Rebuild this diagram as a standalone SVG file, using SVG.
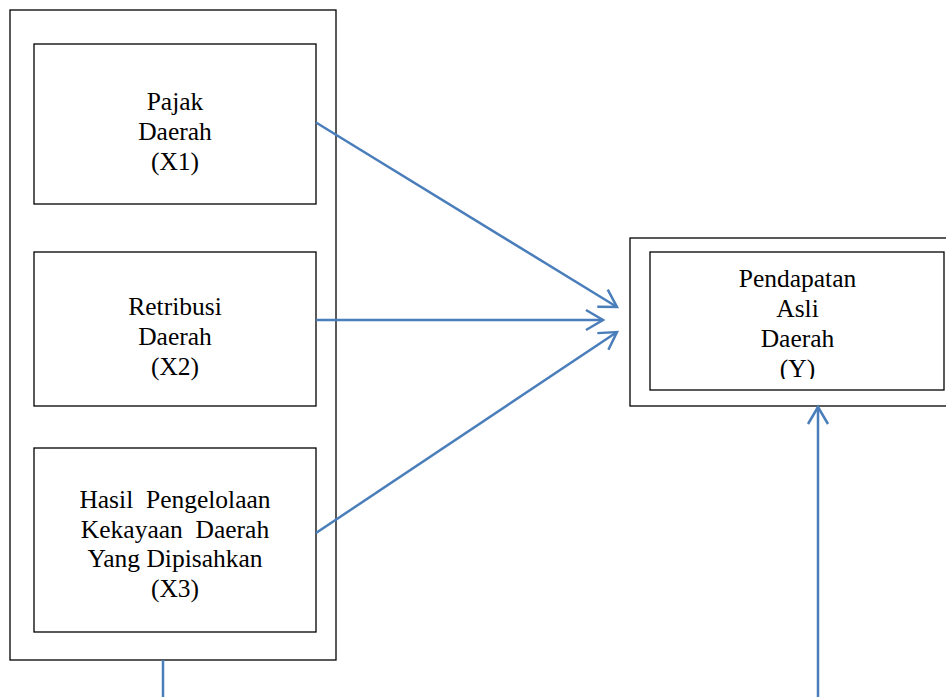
<svg xmlns="http://www.w3.org/2000/svg" width="946" height="697" viewBox="0 0 946 697">
<style>
.box{fill:none;stroke:#000;stroke-width:1.3}
.lbl{font-size:25.5px;fill:#000;text-anchor:middle}
.conn{fill:none;stroke:#4A7EBB;stroke-width:2.5}
</style>
<defs>
<marker id="arr" markerUnits="userSpaceOnUse" viewBox="-20 -12 22 24" refX="0" refY="0" markerWidth="22" markerHeight="24" orient="auto" overflow="visible">
<path d="M-17,-10 L0,0 L-17,10" fill="none" stroke="#4A7EBB" stroke-width="2.5"/>
</marker>
<clipPath id="clipY"><rect x="650" y="252" width="295" height="127"/></clipPath>
</defs>
<rect width="946" height="697" fill="#fff"/>
<g id="group-x">
<rect class="box" x="10" y="10" width="326" height="650"/>
</g>
<g font-family="Liberation Serif, DejaVu Serif, serif">
<g id="x1">
<rect class="box" x="34" y="44" width="282" height="160"/>
<text class="lbl" x="175" y="110">Pajak</text>
<text class="lbl" x="175" y="140">Daerah</text>
<text class="lbl" x="175" y="170">(X1)</text>
</g>
<g id="x2">
<rect class="box" x="34" y="252" width="282" height="154"/>
<text class="lbl" x="175" y="315">Retribusi</text>
<text class="lbl" x="175" y="345">Daerah</text>
<text class="lbl" x="175" y="375">(X2)</text>
</g>
<g id="x3">
<rect class="box" x="34" y="448" width="282" height="184"/>
<text class="lbl" x="175" y="508" xml:space="preserve">Hasil  Pengelolaan</text>
<text class="lbl" x="175" y="538" xml:space="preserve">Kekayaan  Daerah</text>
<text class="lbl" x="175" y="567">Yang Dipisahkan</text>
<text class="lbl" x="175" y="597">(X3)</text>
</g>
<g id="y">
<rect class="box" x="630" y="238" width="330" height="168"/>
<rect class="box" x="650" y="252" width="294" height="138"/>
<g clip-path="url(#clipY)">
<text class="lbl" x="797.5" y="287">Pendapatan</text>
<text class="lbl" x="797.5" y="317">Asli</text>
<text class="lbl" x="797.5" y="347">Daerah</text>
<text class="lbl" x="797.5" y="377">(Y)</text>
</g>
</g>
</g>
<g id="connectors">
<line class="conn" x1="316" y1="122.5" x2="617" y2="307" marker-end="url(#arr)"/>
<line class="conn" x1="316" y1="320" x2="603" y2="320" marker-end="url(#arr)"/>
<line class="conn" x1="316" y1="533" x2="617" y2="332" marker-end="url(#arr)"/>
<line class="conn" x1="818" y1="697" x2="818" y2="407" marker-end="url(#arr)"/>
<line class="conn" x1="163" y1="660" x2="163" y2="697"/>
</g>
</svg>
